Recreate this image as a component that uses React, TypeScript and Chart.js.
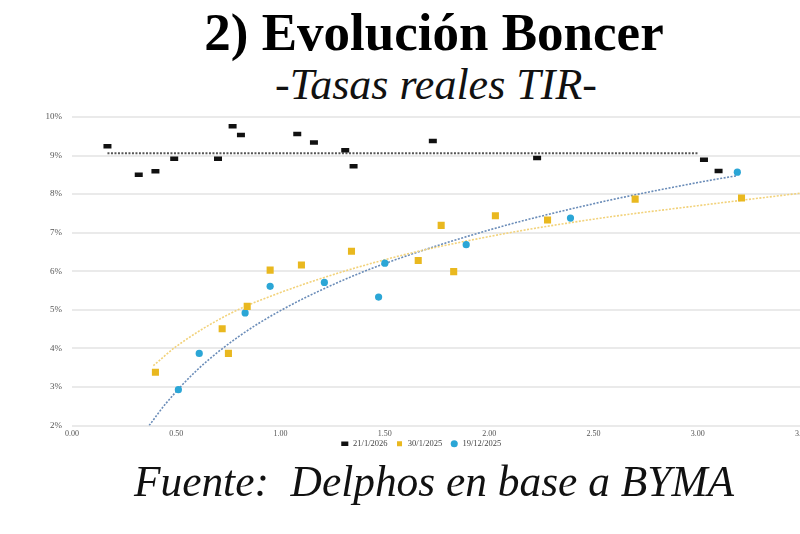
import React, { useEffect, useRef } from "react";
import { Chart, registerables } from "chart.js";

Chart.register(...registerables);

// ---- data ----
const seriesLabels = ["21/1/2026", "30/1/2025", "19/12/2025"];

const blackX = [0.17, 0.32, 0.4, 0.49, 0.7, 0.77, 0.81, 1.08, 1.16, 1.31, 1.35, 1.73, 2.23, 3.03, 3.1];
const blackY = [9.24, 8.5, 8.59, 8.92, 8.92, 9.76, 9.53, 9.56, 9.34, 9.14, 8.72, 9.38, 8.94, 8.89, 8.6];

const yellowX = [0.4, 0.72, 0.75, 0.84, 0.95, 1.1, 1.34, 1.66, 1.77, 1.83, 2.03, 2.28, 2.7, 3.21];
const yellowY = [3.38, 4.51, 3.87, 5.09, 6.03, 6.16, 6.52, 6.28, 7.19, 5.99, 7.44, 7.33, 7.87, 7.9];

const tealX = [0.51, 0.61, 0.83, 0.95, 1.21, 1.47, 1.5, 1.89, 2.39, 3.19];
const tealY = [2.93, 3.87, 4.92, 5.61, 5.71, 5.33, 6.21, 6.69, 7.38, 8.57];

// trend lines
const blackTrendX = [0.17, 3.0];
const blackTrendY = [9.06, 9.06];
const yellowTrendX = [0.39, 0.5, 0.75, 1.0, 1.5, 2.0, 2.5, 3.0, 3.5];
const yellowTrendY = [3.55, 4.05, 4.88, 5.45, 6.3, 6.9, 7.35, 7.7, 8.03];
const tealTrendX = [0.37, 0.45, 0.6, 0.8, 1.0, 1.25, 1.5, 2.0, 2.5, 3.0, 3.19];
const tealTrendY = [2.0, 2.57, 3.44, 4.31, 4.98, 5.65, 6.2, 7.07, 7.75, 8.3, 8.48];

const xMin = 0;
const xMax = 3.5;
const xStep = 0.5;
const yMin = 2;
const yMax = 10;
const yStep = 1;

const titleText = "2) Evolución Boncer";
const subtitleText = "-Tasas reales TIR-";
const sourceText = "Fuente:  Delphos en base a BYMA";

const zip = (xs: number[], ys: number[]) => xs.map((x, i) => ({ x, y: ys[i] }));

const BLACK = "#111111";
const YELLOW = "#E9B81F";
const TEAL = "#2BA6D6";

// nudge the legend up so it sits just under the x tick labels, as in the source
const legendNudge = {
  id: "legendNudge",
  afterLayout(chart: any) {
    const l = chart.legend;
    if (l) {
      l.top -= 8;
      l.bottom -= 8;
    }
  },
};

function ChartCanvas() {
  const ref = useRef<HTMLCanvasElement | null>(null);
  useEffect(() => {
    if (!ref.current) return;
    const chart = new Chart(ref.current, {
      type: "scatter",
      plugins: [legendNudge],
      data: {
        datasets: [
          {
            label: seriesLabels[0],
            data: zip(blackX, blackY),
            pointStyle: "line",
            pointRadius: 4,
            pointBorderWidth: 4.5,
            borderWidth: 3,
            borderColor: BLACK,
            backgroundColor: BLACK,
            order: 0,
          },
          {
            label: seriesLabels[1],
            data: zip(yellowX, yellowY),
            pointStyle: "rect",
            pointRadius: 5,
            borderWidth: 0,
            borderColor: YELLOW,
            backgroundColor: YELLOW,
            order: 0,
          },
          {
            label: seriesLabels[2],
            data: zip(tealX, tealY),
            pointStyle: "circle",
            pointRadius: 3.6,
            borderWidth: 0,
            borderColor: TEAL,
            backgroundColor: TEAL,
            order: 0,
          },
          {
            label: "trend1",
            data: zip(blackTrendX, blackTrendY),
            showLine: true,
            pointRadius: 0,
            borderColor: "#555555",
            borderWidth: 2,
            borderDash: [2, 1.5],
            order: 1,
          },
          {
            label: "trend2",
            data: zip(yellowTrendX, yellowTrendY),
            showLine: true,
            pointRadius: 0,
            borderColor: "#F2D27A",
            borderWidth: 1.6,
            borderDash: [2, 1.5],
            cubicInterpolationMode: "monotone",
            order: 1,
          },
          {
            label: "trend3",
            data: zip(tealTrendX, tealTrendY),
            showLine: true,
            pointRadius: 0,
            borderColor: "#6A8CB8",
            borderWidth: 1.6,
            borderDash: [2, 1.5],
            cubicInterpolationMode: "monotone",
            order: 1,
          },
        ],
      },
      options: {
        animation: false,
        responsive: false,
        devicePixelRatio: 1,
        layout: { padding: { left: 40, right: 28, top: 17, bottom: 9 } },
        plugins: {
          tooltip: { enabled: false },
          legend: {
            position: "bottom",
            labels: {
              usePointStyle: true,
              boxHeight: 5,
              boxWidth: 8,
              color: "#444",
              font: { family: "'Liberation Serif', serif", size: 8.5 },
              padding: 8,
              filter: (item: any) => item.datasetIndex < 3,
            },
          },
        },
        scales: {
          x: {
            type: "linear",
            min: xMin,
            max: xMax,
            afterFit: (s: any) => {
              s.height = 14;
            },
            ticks: {
              stepSize: xStep,
              padding: 4,
              color: "#555",
              font: { family: "'Liberation Serif', serif", size: 8 },
              callback: (v: any) => Number(v).toFixed(2),
            },
            grid: { display: false, drawTicks: false },
            border: { display: false },
          },
          y: {
            type: "linear",
            min: yMin,
            max: yMax,
            afterFit: (s: any) => {
              s.width = 32;
            },
            ticks: {
              stepSize: yStep,
              padding: 10,
              color: "#555",
              font: { family: "'Liberation Serif', serif", size: 9 },
              callback: (v: any) => `${v}%`,
            },
            grid: { color: "#EAEAEA", lineWidth: 2, drawTicks: false },
            border: { display: false },
          },
        },
      },
    } as any);
    return () => chart.destroy();
  }, []);
  return <canvas ref={ref} width={830} height={375} style={{ display: "block" }} />;
}

export default function App() {
  const serif = "'Liberation Serif', 'Times New Roman', serif";
  return (
    <div
      style={{
        position: "absolute",
        left: 0,
        top: 0,
        width: 800,
        height: 534,
        overflow: "hidden",
        background: "#fff",
      }}
    >
      <div
        style={{
          position: "absolute",
          left: 0,
          top: 6,
          width: 868,
          textAlign: "center",
          fontFamily: serif,
          fontWeight: "bold",
          fontSize: 53,
          lineHeight: 1,
          color: "#000",
          whiteSpace: "pre",
        }}
      >
        {titleText}
      </div>
      <div
        style={{
          position: "absolute",
          left: 0,
          top: 63,
          width: 872,
          textAlign: "center",
          fontFamily: serif,
          fontStyle: "italic",
          fontSize: 44,
          lineHeight: 1,
          color: "#111",
          whiteSpace: "pre",
        }}
      >
        {subtitleText}
      </div>
      <div style={{ position: "absolute", left: 0, top: 100, width: 830, height: 375 }}>
        <ChartCanvas />
      </div>
      <div
        style={{
          position: "absolute",
          left: 0,
          top: 460,
          width: 868,
          textAlign: "center",
          fontFamily: serif,
          fontStyle: "italic",
          fontSize: 43.4,
          lineHeight: 1,
          color: "#111",
          whiteSpace: "pre",
        }}
      >
        {sourceText}
      </div>
    </div>
  );
}
